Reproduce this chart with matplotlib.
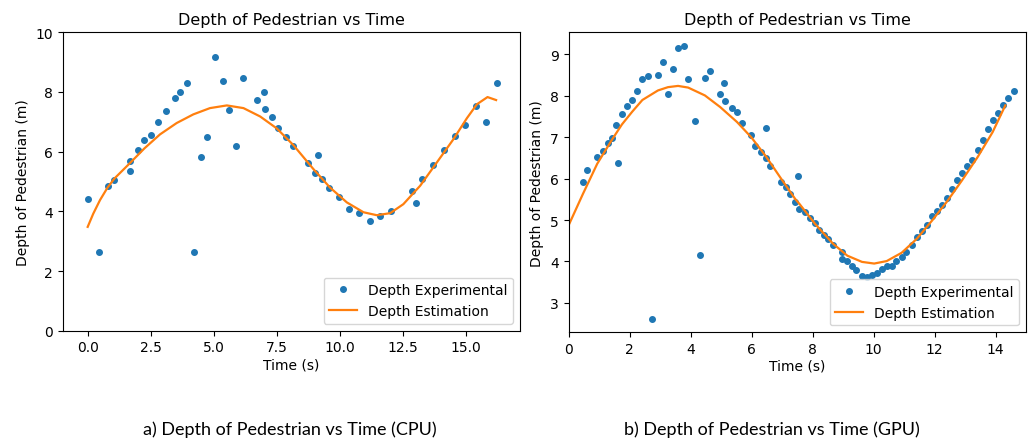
#!/usr/bin/env python3

import matplotlib
matplotlib.use('Agg')
import matplotlib.pyplot as plt

plt.rcParams['font.family'] = ['DejaVu Sans']

# CPU run: measured depth points
cpu_time = [0.0, 0.46, 0.80, 1.06, 1.69, 1.69, 1.99, 2.25, 2.52, 2.79, 3.09, 3.48, 3.66, 3.93,
            4.21, 4.50, 4.74, 5.04, 5.35, 5.61, 5.89, 6.16, 6.73, 6.99, 7.03, 7.30, 7.56, 7.87,
            8.16, 8.72, 9.01, 9.12, 9.29, 9.59, 9.96, 10.36, 10.78, 11.21, 11.61, 12.02, 12.85,
            13.04, 13.27, 13.70, 14.14, 14.58, 14.96, 15.39, 15.79, 16.23]
cpu_depth = [4.42, 2.63, 4.84, 5.06, 5.70, 5.36, 6.04, 6.39, 6.57, 6.98, 7.36, 7.79, 7.99, 8.30,
             2.63, 5.83, 6.48, 9.17, 8.38, 7.39, 6.18, 8.47, 7.73, 8.01, 7.43, 7.17, 6.79, 6.49,
             6.19, 5.62, 5.29, 5.90, 5.08, 4.78, 4.47, 4.08, 3.93, 3.69, 3.83, 4.01, 4.68,
             4.28, 5.08, 5.55, 6.04, 6.51, 6.91, 7.53, 7.00, 8.30]

# CPU run: estimated depth curve
cpu_est_time = [0.0, 0.22, 0.49, 0.79, 1.06, 1.68, 2.25, 2.87, 3.53, 4.19, 4.85, 5.52, 6.18,
                6.84, 7.50, 8.16, 8.95, 9.61, 10.28, 10.94, 11.47, 12.0, 12.52, 13.19, 13.85,
                14.51, 15.04, 15.44, 15.86, 16.20]
cpu_est_depth = [3.48, 3.92, 4.38, 4.80, 5.10, 5.62, 6.11, 6.58, 6.96, 7.25, 7.46, 7.55, 7.46,
                 7.18, 6.78, 6.22, 5.42, 4.80, 4.30, 3.97, 3.87, 3.94, 4.24, 4.86, 5.64,
                 6.42, 7.12, 7.59, 7.83, 7.73]

# GPU run: measured depth points
gpu_time = [0.47, 0.60, 0.94, 1.12, 1.28, 1.44, 1.55, 1.61, 1.75, 1.92, 2.09, 2.25, 2.42, 2.59,
            2.75, 2.93, 3.09, 3.26, 3.42, 3.60, 3.77, 3.92, 4.13, 4.31, 4.47, 4.64, 4.97, 5.08,
            5.14, 5.35, 5.52, 5.68, 5.99, 6.12, 6.32, 6.46, 6.47, 6.62, 6.95, 7.13, 7.26, 7.43,
            7.51, 7.55, 7.76, 7.92, 8.08, 8.21, 8.36, 8.52, 8.67, 8.96, 8.98, 9.14, 9.28, 9.42,
            9.62, 9.78, 9.95, 10.10, 10.26, 10.43, 10.59, 10.75, 10.92, 11.07, 11.25, 11.42,
            11.59, 11.75, 11.92, 12.09, 12.25, 12.41, 12.57, 12.73, 12.90, 13.06, 13.24, 13.41,
            13.59, 13.75, 13.90, 14.08, 14.25, 14.42, 14.59]
gpu_depth = [5.93, 6.20, 6.53, 6.67, 6.87, 6.99, 7.29, 6.37, 7.57, 7.76, 7.89, 8.11, 8.41, 8.49,
             2.61, 8.50, 8.82, 8.04, 8.65, 9.16, 9.20, 8.40, 7.40, 4.16, 8.44, 8.59, 8.05, 8.31,
             7.88, 7.70, 7.61, 7.35, 7.05, 6.80, 6.64, 6.49, 7.23, 6.31, 5.91, 5.79, 5.63, 5.44,
             6.07, 5.27, 5.20, 5.05, 4.92, 4.75, 4.63, 4.55, 4.41, 4.22, 4.07, 4.00, 3.90, 3.80,
             3.66, 3.63, 3.68, 3.73, 3.82, 3.89, 3.89, 4.01, 4.11, 4.24, 4.40, 4.59,
             4.74, 4.88, 5.09, 5.23, 5.37, 5.53, 5.75, 5.97, 6.13, 6.31, 6.46, 6.69,
             6.93, 7.20, 7.41, 7.59, 7.79, 7.95, 8.11]

# GPU run: estimated depth curve
gpu_est_time = [0.0, 0.47, 0.94, 1.44, 1.75, 2.09, 2.42, 2.93, 3.26, 3.59, 3.92, 4.47, 4.97,
                5.52, 5.99, 6.47, 6.95, 7.43, 7.57, 8.08, 8.67, 9.14, 9.62, 10.02, 10.43, 10.92,
                11.42, 11.92, 12.41, 12.90, 13.41, 13.90, 14.32]
gpu_est_depth = [4.87, 5.63, 6.36, 6.96, 7.31, 7.62, 7.90, 8.13, 8.21, 8.24, 8.20, 8.01, 7.73,
                 7.37, 7.00, 6.54, 6.02, 5.51, 5.39, 4.91, 4.43, 4.14, 3.99, 3.95, 4.01, 4.21,
                 4.55, 4.99, 5.45, 5.96, 6.52, 7.12, 7.77]

TITLE = 'Depth of Pedestrian vs Time'


def draw_panel(ax, t, d, et, ed):
    ax.plot(t, d, 'o', color='#1f77b4', markersize=4, label='Depth Experimental')
    ax.plot(et, ed, color='#ff7f0e', linewidth=1.6, label='Depth Estimation')
    ax.set_title(TITLE, fontsize=11.5)
    ax.set_xlabel('Time (s)', fontsize=10, labelpad=2)
    ax.set_ylabel('Depth of Pedestrian (m)', fontsize=10)
    ax.tick_params(labelsize=10)
    ax.legend(loc='lower right', fontsize=10)


def main():
    fig = plt.figure(figsize=(10.30, 4.39), dpi=100)

    a = fig.add_axes([0.0609, 0.2444, 0.4440, 0.6797])
    draw_panel(a, cpu_time, cpu_depth, cpu_est_time, cpu_est_depth)
    a.set_xlim(-0.99, 17.15)
    a.set_ylim(0, 10)
    a.set_xticks([0.0, 2.5, 5.0, 7.5, 10.0, 12.5, 15.0])
    a.set_xticklabels(['0.0', '2.5', '5.0', '7.5', '10.0', '12.5', '15.0'])

    b = fig.add_axes([0.5520, 0.2408, 0.4442, 0.6829])
    draw_panel(b, gpu_time, gpu_depth, gpu_est_time, gpu_est_depth)
    b.set_xlim(0, 15)
    b.set_ylim(2.29, 9.53)

    fig.text(0.281, 1 - 430 / 439, 'a) Depth of Pedestrian vs Time (CPU)',
             fontsize=13, family='Lato', ha='center', va='center')
    fig.text(0.749, 1 - 430 / 439, 'b) Depth of Pedestrian vs Time (GPU)',
             fontsize=13, family='Lato', ha='center', va='center')

    fig.savefig('out.png', dpi=100)


if __name__ == '__main__':
    main()
